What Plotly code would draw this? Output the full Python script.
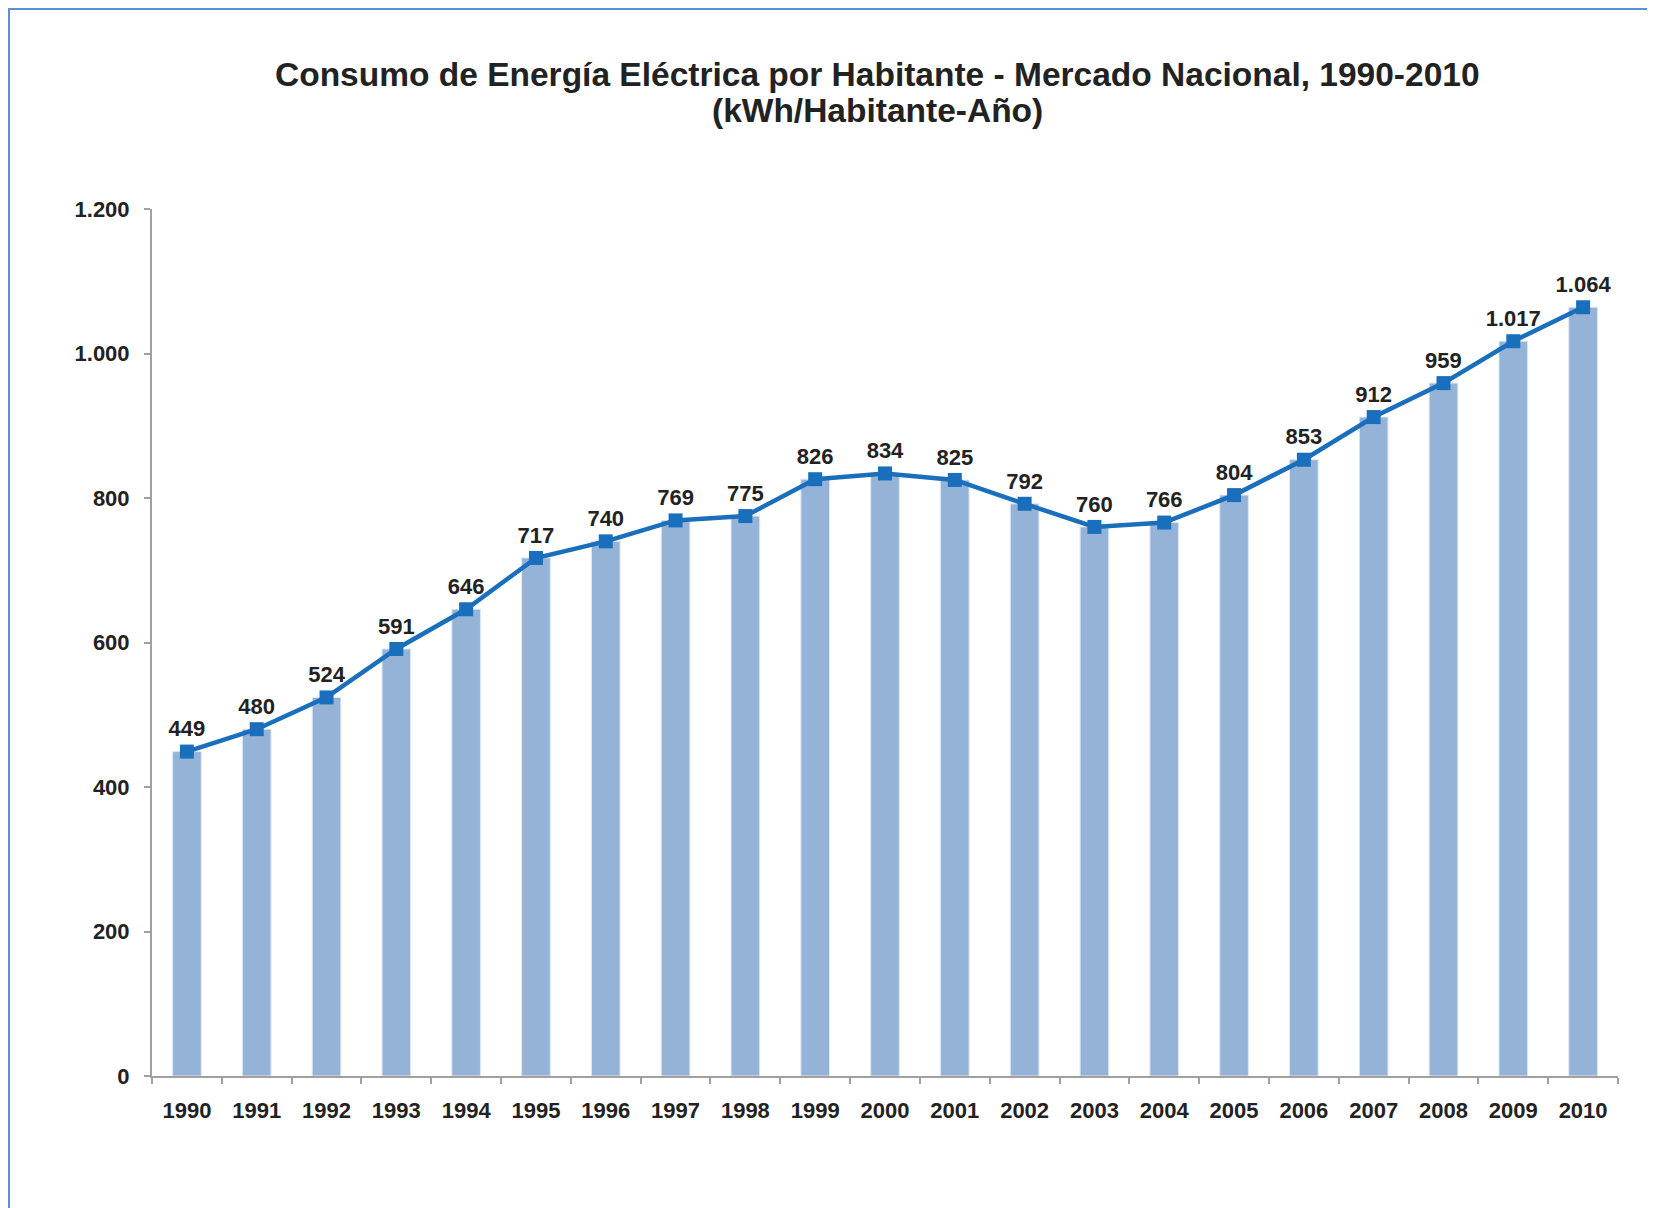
import plotly.graph_objects as go

years = [str(y) for y in range(1990, 2011)]
values = [449, 480, 524, 591, 646, 717, 740, 769, 775, 826, 834, 825, 792, 760, 766, 804, 853, 912, 959, 1017, 1064]
y_ticks = [0, 200, 400, 600, 800, 1000, 1200]

title_line1 = "Consumo de Energía Eléctrica por Habitante - Mercado Nacional, 1990-2010"
title_line2 = "(kWh/Habitante-Año)"

FONT = "Liberation Sans, Arial, sans-serif"
TXT = "#222222"

# figure is placed at page offset (8, 8) by the default body margin
W, H = 1647, 1200
L, R, T, B = 144, 1610, 201, 1068
pw, ph = R - L, B - T

fig = go.Figure()
fig.add_trace(go.Bar(
    x=years, y=values,
    marker=dict(color="#95b3d7", line=dict(color="#dce6f2", width=1)),
    width=0.41, hoverinfo="skip", showlegend=False,
))
fig.add_trace(go.Scatter(
    x=years, y=values, mode="lines+markers+text",
    line=dict(color="#1a6fbd", width=4.5),
    marker=dict(symbol="square", size=14, color="#1a6fbd"),
    text=[f"{v:,}".replace(",", ".") for v in values],
    textposition="top center",
    textfont=dict(family=FONT, size=22, color=TXT, weight="bold"),
    showlegend=False, cliponaxis=False,
))

fig.update_layout(
    width=W, height=H,
    margin=dict(l=L, r=W - R, t=T, b=H - B),
    paper_bgcolor="white", plot_bgcolor="white",
    separators=",.",
    font=dict(family=FONT, size=21, color=TXT),
)

title_cx = (869 - L) / pw
for txt, ypix in [(title_line1, 66), (title_line2, 103)]:
    fig.add_annotation(
        text=txt, xref="paper", yref="paper",
        x=title_cx, y=1 + (T - ypix) / ph,
        xanchor="center", yanchor="middle", showarrow=False,
        font=dict(family=FONT, size=33.5, color=TXT, weight="bold"),
    )

fig.update_xaxes(
    type="category",
    showline=True, linecolor="#a0a0a0", linewidth=2,
    ticks="outside", ticklen=6, tickcolor="#a0a0a0", tickwidth=2,
    tickson="boundaries",
    tickfont=dict(size=22, color=TXT, weight="bold"),
    ticklabelstandoff=14,
    showgrid=False, range=[-0.5, 20.5],
)
fig.update_yaxes(
    range=[0, 1200], tickvals=y_ticks, tickformat=",d",
    showline=True, linecolor="#a0a0a0", linewidth=2,
    ticks="outside", ticklen=6, tickcolor="#a0a0a0", tickwidth=2,
    tickfont=dict(size=22, color=TXT, weight="bold"),
    showgrid=False, zeroline=False, ticklabelstandoff=10,
)

# outer chart border (extends beyond right/bottom of the view)
fig.add_shape(
    type="rect", xref="paper", yref="paper",
    x0=(1 - L) / pw, x1=(W + 30 - L) / pw,
    y0=(B - (H + 30)) / ph, y1=1 + (T - 1) / ph,
    line=dict(color="#5b8fd6", width=2), fillcolor="rgba(0,0,0,0)", layer="below",
)

fig.write_html("out.html")
